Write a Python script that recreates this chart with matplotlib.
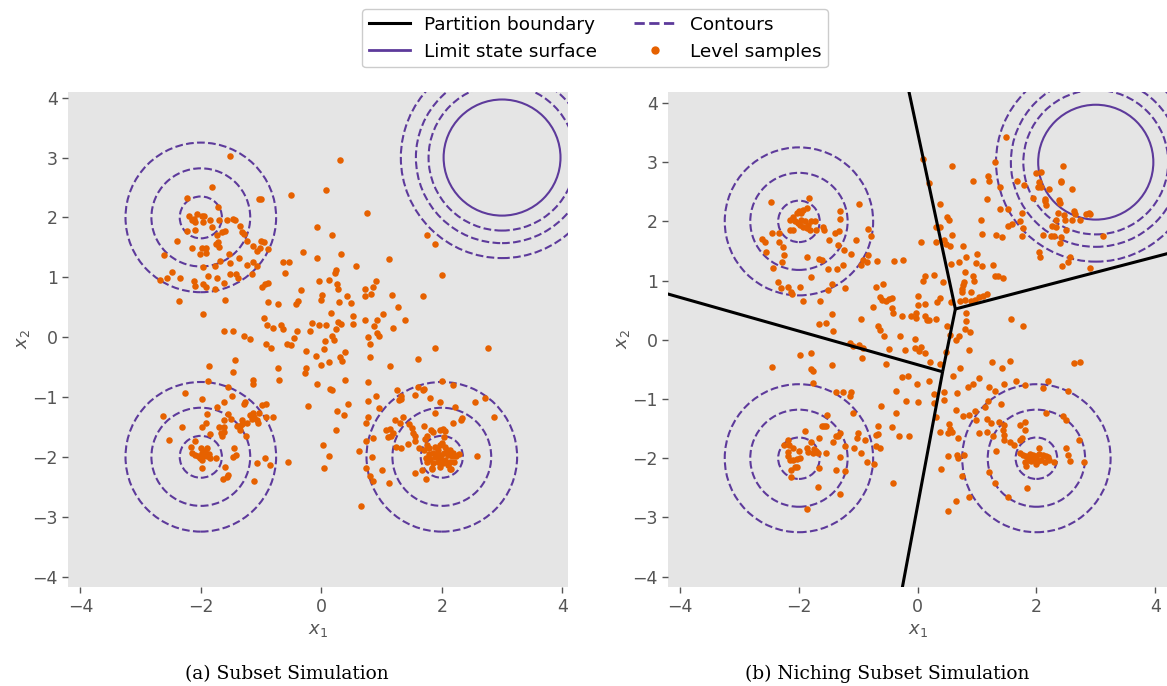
import numpy as np
import matplotlib
matplotlib.use("Agg")
import matplotlib.pyplot as plt
from matplotlib.patches import Circle
from matplotlib.lines import Line2D
from matplotlib.font_manager import FontProperties

purple = "#5d3a9b"
orange = "#e66100"
grey_bg = "#e5e5e5"
tick_grey = "#555555"

# contours of the limit state function
contour_centers = [(-2, 2), (-2, -2), (2, -2)]
contour_radii = [0.35, 0.82, 1.25]
fail_center = (3, 3)
fail_contour_radii = [1.22, 1.43, 1.68]
limit_radius = 0.97

# partition boundaries (niching), segment end points
partition_segments = [
    [(-0.17, 4.3), (0.635, 0.52)],
    [(0.635, 0.52), (4.3, 1.48)],
    [(0.635, 0.52), (0.42, -0.54)],
    [(0.42, -0.54), (-4.3, 0.80)],
    [(0.42, -0.54), (-0.28, -4.3)],
]

# level samples, subset simulation
ss_points = [
    (-1.51, 3.02), (-1.82, 2.51), (-2.23, 2.33), (-1.03, 2.30), (-1.00, 2.30),
    (-2.19, 2.03), (-2.15, 1.95), (-2.12, 1.98), (-2.07, 2.06), (-1.98, 2.03), (-1.94, 2.03),
    (-2.09, 1.92), (-1.96, 1.92), (-1.85, 1.95), (-1.71, 2.18), (-1.69, 1.95), (-1.57, 1.95),
    (-1.46, 1.98), (-1.44, 1.95), (-1.35, 1.85), (-1.32, 1.76), (-1.29, 1.73), (-1.60, 1.78),
    (-1.65, 1.76), (-1.73, 1.70), (-1.71, 1.59), (-1.75, 1.56), (-1.69, 1.51), (-1.82, 1.84),
    (-2.10, 1.79), (-2.23, 1.77), (-2.15, 1.49), (-1.98, 1.49), (-1.92, 1.49), (-2.01, 1.39),
    (-1.92, 1.41), (-2.39, 1.61), (-2.61, 1.38), (-2.67, 0.95), (-2.56, 0.99), (-2.48, 1.09),
    (-2.34, 0.99), (-2.12, 0.94), (-2.09, 0.85), (-1.97, 0.88), (-1.92, 0.83), (-1.76, 0.81),
    (-1.88, 1.02), (-1.73, 0.98), (-1.62, 0.91), (-1.97, 1.17), (-1.77, 1.19), (-1.68, 1.27),
    (-1.54, 1.39), (-1.51, 1.23), (-1.51, 1.06), (-1.42, 1.06), (-1.38, 0.99), (-1.36, 1.33),
    (-1.23, 1.20), (-1.15, 1.05), (-1.07, 1.19), (-1.13, 1.26), (-1.06, 1.44), (-1.02, 1.49),
    (-1.00, 1.61), (-1.13, 1.53), (-1.24, 1.61), (-2.37, 0.61), (-1.97, 0.39), (-1.60, 0.62),
    (-1.62, 0.11), (-1.47, 0.11), (-1.29, 0.02), (-1.18, -0.03),
    (0.31, 2.96), (0.08, 2.46), (-0.50, 2.38), (0.76, 2.07), (-0.07, 1.84), (0.18, 1.71),
    (-0.31, 1.42), (-0.07, 1.33), (0.33, 1.39), (1.13, 1.31), (-0.64, 1.26), (-0.53, 1.26),
    (-0.60, 1.07), (-0.98, 0.84), (-0.93, 0.89), (-0.88, 0.91), (-0.95, 1.59), (-0.88, 1.48),
    (0.57, 1.18), (0.22, 1.07), (0.24, 1.12), (0.12, 0.96), (-0.04, 0.93), (0.26, 0.89),
    (0.27, 0.81), (-0.34, 0.79), (2.01, 1.03), (0.72, 0.81), (0.85, 0.84), (0.83, 0.72),
    (0.72, 0.69), (0.91, 0.93), (1.17, 0.71), (1.69, 0.68), (0.01, 0.71), (0.00, 0.62),
    (0.42, 0.68), (0.30, 0.58), (0.49, 0.57), (-0.89, 0.58), (-0.72, 0.55), (-0.42, 0.56),
    (-0.38, 0.61), (1.27, 0.51), (0.16, 0.41), (0.52, 0.36), (1.02, 0.39), (1.39, 0.28),
    (-0.95, 0.32), (-0.90, 0.20), (-0.80, 0.16), (-0.67, 0.21), (-0.64, 0.14), (-0.41, 0.10),
    (-0.15, 0.24), (-0.18, 0.10), (-0.04, 0.21), (0.07, 0.21), (0.28, 0.25), (0.32, 0.22),
    (0.25, 0.13), (0.53, 0.22), (0.72, 0.29), (0.93, 0.28), (0.88, 0.18), (1.19, 0.16),
    (0.93, 0.07), (0.95, 0.02), (0.77, 0.01), (-0.46, -0.01), (-0.57, -0.11), (-0.50, -0.13),
    (-0.91, -0.11), (-0.84, -0.19), (0.18, 0.02), (0.21, -0.04), (0.06, -0.06), (0.04, -0.20),
    (-0.25, -0.24), (-0.09, -0.31), (0.12, -0.42), (0.00, -0.46), (0.31, -0.34), (0.34, -0.40),
    (0.40, -0.25), (0.81, -0.12), (0.80, -0.34), (1.14, -0.48), (1.61, -0.37), (1.88, -0.18),
    (-0.72, -0.52), (-0.71, -0.72), (-0.25, -0.51), (-0.27, -0.60), (-0.07, -0.79), (0.14, -0.87),
    (0.17, -0.88), (0.39, -0.72), (0.77, -0.75), (2.01, -0.74), (-0.22, -1.15), (0.26, -1.23),
    (0.44, -1.12), (0.91, -0.98), (0.77, -1.06), (0.96, -1.18), (1.25, -0.89), (1.33, -0.98),
    (1.29, -1.05), (1.32, -1.04), (1.56, -0.97), (1.69, -0.89), (1.61, -0.84), (1.71, -0.86),
    (1.80, -1.01), (1.97, -1.09), (1.76, 1.71), (1.88, 1.55),
    (2.77, -0.19), (2.72, -1.02), (2.55, -1.09), (2.19, -0.80), (2.87, -1.33), (2.22, -1.16),
    (0.77, -1.33), (0.75, -1.44), (1.23, -1.38), (1.35, -1.34), (1.07, -1.55), (1.14, -1.53),
    (1.11, -1.67), (1.16, -1.66), (1.19, -1.61), (1.31, -1.44), (1.46, -1.45), (1.50, -1.52),
    (1.53, -1.61), (1.56, -1.66), (1.55, -1.74), (1.44, -1.78), (1.33, -1.86), (1.24, -1.84),
    (0.74, -1.74), (0.85, -1.69), (0.62, -1.91), (0.75, -2.18), (0.80, -2.32), (0.85, -2.40),
    (0.84, -2.01), (1.00, -2.22), (1.13, -2.43), (0.66, -2.82), (1.71, -1.49), (1.62, -1.86),
    (1.75, -1.66), (1.72, -1.71), (1.82, -1.56), (1.86, -1.59), (1.89, -1.27), (1.97, -1.55),
    (2.02, -1.54), (2.06, -1.57), (2.18, -1.44), (2.32, -1.38), (2.34, -1.35), (2.58, -1.98),
    (1.74, -2.37), (1.56, -2.27), (1.67, -2.22), (1.83, -2.21), (2.14, -2.21),
    (0.02, -1.80), (0.12, -1.99), (0.05, -2.19), (0.37, -1.30), (0.25, -1.56),
    (1.79, -1.86), (1.89, -1.83), (1.97, -1.80), (2.06, -1.83), (2.14, -1.89), (2.19, -1.94),
    (2.24, -1.98), (2.17, -1.99), (2.11, -1.97), (2.03, -1.93), (1.94, -1.89), (1.86, -1.93),
    (1.78, -1.95), (1.74, -2.02), (1.81, -2.04), (1.89, -2.01), (1.97, -2.02), (2.06, -2.05),
    (2.14, -2.08), (2.20, -2.09), (2.11, -2.13), (2.02, -2.11), (1.93, -2.09), (1.85, -2.11),
    (1.75, -2.09), (1.83, -2.19), (1.97, -2.17), (2.15, -2.21), (1.70, -1.88), (2.28, -1.95),
    (2.00, -1.77), (2.04, -1.67), (1.75, -1.80), (1.92, -1.95), (1.98, -1.97), (2.08, -1.88),
    (-1.86, -0.48), (-1.43, -0.39), (-1.47, -0.59), (-1.13, -0.71), (-1.13, -0.79), (-0.55, -2.09),
    (-1.88, -0.74), (-2.26, -0.94), (-1.98, -1.04), (-1.73, -1.16), (-1.61, -1.09), (-1.48, -0.99),
    (-1.55, -0.83), (-1.29, -1.12), (-1.27, -1.09), (-0.98, -1.13), (-0.92, -1.12), (-1.89, -1.29),
    (-1.55, -1.28), (-1.61, -1.38), (-1.50, -1.37), (-1.32, -1.39), (-1.35, -1.49), (-1.31, -1.46),
    (-1.23, -1.43), (-1.18, -1.30), (-1.15, -1.36), (-1.13, -1.27), (-1.11, -1.34), (-1.07, -1.38),
    (-1.05, -1.43), (-1.03, -1.27), (-0.91, -1.34), (-0.81, -1.33), (-2.62, -1.32), (-2.31, -1.51),
    (-2.52, -1.72), (-2.10, -1.73), (-1.98, -1.51), (-1.92, -1.44), (-1.84, -1.62), (-1.69, -1.51),
    (-1.62, -1.51), (-1.66, -1.61), (-1.65, -1.66), (-1.62, -1.58), (-1.40, -1.49), (-1.25, -1.66),
    (-1.35, -1.55),
    (-2.16, -1.84), (-2.15, -1.93), (-2.09, -1.97), (-2.00, -1.86), (-1.90, -1.86), (-1.98, -1.93),
    (-1.96, -1.99), (-2.01, -2.02), (-1.86, -1.95), (-1.85, -2.02), (-1.75, -2.02), (-2.05, -1.98),
    (-1.98, -2.06), (-1.90, -1.98), (-1.93, -1.91), (-1.98, -2.19),
    (-1.45, -1.86), (-1.46, -2.01), (-1.41, -1.97), (-1.60, -2.17), (-1.55, -2.30), (-1.56, -2.33),
    (-1.63, -2.37), (-1.12, -2.41), (-1.07, -2.11), (-0.94, -2.02), (-0.85, -2.13),
]

# level samples, niching subset simulation
nss_points = [
    (-0.78, 1.76), (-1.04, 1.69), (0.05, 1.65), (0.31, 1.66), (0.44, 1.69), (0.47, 1.62),
    (0.54, 1.59), (0.57, 1.77), (0.76, 1.59), (1.09, 1.79), (1.32, 1.77), (1.42, 1.73),
    (1.75, 1.76), (-1.24, 1.52), (-1.13, 1.45), (-0.84, 1.44), (-0.92, 1.35), (-0.86, 1.32),
    (-0.95, 1.27), (-0.68, 1.33), (-0.40, 1.33), (-0.24, 1.35), (-1.26, 1.27), (0.56, 1.28),
    (0.69, 1.32), (0.81, 1.40), (1.00, 1.45), (0.99, 1.30), (1.09, 1.25), (1.27, 1.27),
    (0.79, 1.14), (-1.23, 0.87), (-0.70, 0.89), (-0.58, 0.94), (0.12, 1.08), (0.09, 1.00),
    (0.27, 1.09), (0.42, 0.97), (0.93, 1.07), (0.95, 0.99), (1.30, 1.08), (1.35, 1.07),
    (1.44, 1.04), (0.76, 0.93), (0.78, 0.97), (-0.64, 0.73), (-0.60, 0.68), (-0.53, 0.66),
    (-0.48, 0.69), (-0.43, 0.70), (-0.76, 0.56), (0.01, 0.74), (0.01, 0.59), (0.12, 0.60),
    (0.37, 0.70), (0.33, 0.63), (0.56, 0.63), (0.74, 0.80), (0.75, 0.86), (0.89, 0.80),
    (0.72, 0.66), (0.79, 0.68), (0.90, 0.65), (0.96, 0.68), (1.03, 0.72), (1.10, 0.74),
    (1.16, 0.77), (-0.43, 0.53), (-0.42, 0.45), (-0.96, 0.35), (-0.26, 0.41), (-0.11, 0.41),
    (-0.02, 0.37), (-0.03, 0.45), (0.13, 0.41), (0.16, 0.34), (0.19, 0.33), (0.31, 0.35),
    (0.82, 0.45), (0.82, 0.31), (1.58, 0.35), (1.78, 0.24), (0.50, 0.24), (-0.67, 0.23),
    (-0.64, 0.17), (-0.56, 0.07), (0.79, 0.18), (0.88, 0.14), (-0.29, 0.07), (-0.05, 0.01),
    (-0.04, -0.14), (0.06, -0.13), (0.03, -0.19), (0.12, -0.23), (0.54, 0.08), (0.70, 0.07),
    (0.64, 0.00), (0.86, -0.17), (-0.48, -0.16), (-1.14, -0.06), (-1.09, -0.10), (-0.98, -0.08),
    (-0.92, -0.14), (-0.94, -0.31), (-0.53, -0.41), (-0.21, -0.17), (0.20, -0.38), (0.37, -0.41),
    (0.48, -0.20), (0.72, -0.48), (1.26, -0.37), (1.42, -0.47), (1.56, -0.35), (-0.26, -0.63),
    (-0.16, -0.61), (-0.01, -0.74), (0.19, -0.70), (0.59, -0.61), (0.84, -0.79), (0.93, -0.75),
    (1.04, -0.65), (1.20, -0.79), (1.30, -0.86), (1.45, -0.74), (1.66, -0.70), (1.80, -0.76),
    (-1.12, -0.88), (-1.26, -0.88), (-1.14, -0.95), (-0.36, -0.86), (0.27, -0.91), (0.44, -0.89),
    (0.66, -0.90), (0.45, -1.01), (-0.20, -1.04), (0.01, -1.05), (0.27, -1.07), (-0.61, -1.11),
    (1.19, -1.04), (1.41, -1.08), (1.13, -1.14), (-1.09, -1.24), (-0.37, -1.24), (0.31, -1.31),
    (0.65, -1.18), (0.77, -1.28), (0.86, -1.27), (0.96, -1.21), (0.99, -1.35), (1.16, -1.34),
    (1.24, -1.41), (1.37, -1.38), (1.45, -1.44), (1.44, -1.52), (1.73, -1.44), (1.80, -1.38),
    (0.52, -1.42), (0.54, -1.51), (0.37, -1.55), (-0.67, -1.46), (-1.00, -1.58), (-1.02, -1.66),
    (-0.88, -1.70), (-0.70, -1.60), (-0.66, -1.59), (-0.43, -1.48), (-0.31, -1.62), (-0.15, -1.63),
    (0.51, -1.58), (0.57, -1.55), (0.68, -1.66), (1.03, -1.58), (1.17, -1.55), (1.27, -1.63),
    (1.45, -1.60), (1.46, -1.69), (1.55, -1.72), (1.62, -1.77), (1.72, -1.69), (1.76, -1.66),
    (1.81, -1.52), (-0.70, -1.80), (-1.23, -1.80), (-1.07, -1.83), (-0.63, -1.82),
    (-1.83, 2.39), (-2.47, 2.33), (-0.99, 2.30), (-1.31, 2.17), (-1.31, 2.04),
    (-2.15, 2.03), (-2.10, 2.08), (-2.04, 2.14), (-2.00, 2.17), (-1.96, 2.14), (-1.93, 2.20),
    (-1.87, 2.22), (-2.07, 2.00), (-2.01, 1.97), (-1.99, 1.94), (-1.93, 1.91), (-1.87, 1.89),
    (-1.85, 1.94), (-1.79, 2.00), (-1.73, 2.00), (-1.71, 1.86), (-1.82, 1.86), (-1.96, 2.03),
    (-1.90, 2.00), (-2.10, 1.85), (-2.15, 1.85), (-1.59, 1.90), (-1.58, 1.85), (-2.33, 1.81),
    (-2.45, 1.81), (-1.39, 1.80), (-1.33, 1.83), (-1.35, 1.60), (-1.49, 1.68), (-0.84, 1.87),
    (-2.62, 1.71), (-2.58, 1.65), (-2.56, 1.49), (-2.33, 1.66), (-2.27, 1.57), (-2.26, 1.44),
    (-2.28, 1.32), (-2.44, 1.21), (-1.86, 1.39), (-1.66, 1.36), (-1.61, 1.34), (-1.51, 1.20),
    (-1.36, 1.19), (-1.80, 1.06), (-2.35, 0.97), (-2.30, 0.88), (-2.18, 0.90), (-2.14, 0.81),
    (-2.11, 0.78), (-1.98, 0.90), (-1.93, 0.66), (-1.65, 0.66), (-1.51, 0.84), (-1.44, 0.95),
    (-1.44, 0.44), (-1.54, 0.29), (-1.67, 0.27), (-1.43, 0.15),
    (0.09, 3.06), (0.57, 2.93), (1.48, 3.42), (1.30, 3.00), (0.93, 2.69), (1.18, 2.76),
    (1.20, 2.69), (0.19, 2.64), (1.38, 2.58), (1.16, 2.38), (0.38, 2.30), (1.38, 2.21),
    (0.49, 2.07), (0.52, 2.03), (1.06, 2.02), (0.31, 1.90), (0.38, 1.90), (1.53, 2.21),
    (1.68, 2.69), (1.79, 2.61), (1.99, 2.82), (2.08, 2.83), (2.02, 2.58), (2.08, 2.58),
    (2.05, 2.66), (2.22, 2.55), (2.44, 2.94), (2.41, 2.69), (2.42, 2.66), (2.60, 2.55),
    (1.94, 2.39), (2.15, 2.34), (2.17, 2.28), (2.15, 2.38), (2.38, 2.36), (2.39, 2.31),
    (1.76, 2.15), (1.52, 1.93), (1.59, 1.95), (1.73, 2.00), (1.77, 1.89), (2.37, 2.14),
    (2.46, 2.11), (2.49, 2.03), (2.63, 2.17), (2.65, 2.12), (2.60, 2.03), (2.73, 2.03),
    (2.84, 2.13), (2.88, 2.14), (2.91, 2.13), (2.33, 2.02), (2.26, 1.93), (2.33, 1.91),
    (2.50, 1.85), (2.11, 1.77), (2.25, 1.75), (2.29, 1.75), (2.42, 1.73), (2.40, 1.63),
    (3.13, 1.75), (2.05, 1.48), (2.06, 1.39), (2.56, 1.39), (2.54, 1.32), (2.43, 1.25),
    (2.90, 1.21),
    (-2.46, -0.46), (-1.99, -0.25), (-1.80, -0.23), (-1.79, -0.50), (-1.77, -0.53), (-1.44, -0.42),
    (-1.77, -0.73), (-1.38, -0.89), (-1.52, -1.27), (-1.62, -1.45), (-1.58, -1.45), (-1.54, -1.45),
    (-1.31, -1.58), (-1.37, -1.63), (-1.43, -1.72), (-1.35, -1.62), (-1.89, -1.54), (-1.66, -1.66),
    (-0.95, -1.91), (-0.86, -2.07), (-0.74, -2.10), (-0.42, -2.42),
    (-2.18, -1.70), (-2.17, -1.77), (-2.26, -1.77), (-2.10, -1.83), (-2.18, -1.89), (-2.00, -1.87),
    (-1.87, -1.83), (-1.79, -1.72), (-1.75, -1.84), (-1.71, -1.87), (-1.68, -1.91), (-1.76, -1.91),
    (-1.85, -1.89), (-1.99, -2.00), (-2.04, -2.02), (-2.10, -2.03), (-2.15, -2.03), (-2.18, -1.96),
    (-2.07, -2.14), (-2.13, -2.20), (-2.14, -2.31), (-2.04, -2.14), (-1.66, -2.17), (-1.54, -1.91),
    (-1.68, -2.48), (-1.86, -2.85), (-1.37, -2.20), (-1.30, -1.98), (-1.23, -2.21), (-1.31, -2.61),
    (2.63, -0.39), (2.74, -0.38), (2.19, -0.69), (2.11, -0.82), (2.54, -0.86), (2.17, -1.23),
    (2.45, -1.28), (2.50, -1.35), (2.72, -1.70), (2.50, -1.83), (2.53, -1.94), (2.57, -2.04),
    (2.81, -2.07), (2.05, -1.83),
    (1.77, -1.94), (1.83, -1.96), (1.89, -1.93), (1.94, -1.94), (2.00, -1.96), (2.05, -1.93),
    (2.11, -1.94), (2.17, -1.96), (2.22, -2.03), (2.29, -2.06), (1.86, -2.03), (1.91, -2.04),
    (1.97, -2.02), (2.03, -2.04), (2.08, -2.03), (2.14, -2.06), (1.80, -2.07), (1.83, -2.13),
    (2.00, -2.09), (1.72, -1.91), (1.90, -2.00), (2.19, -1.98),
    (1.20, -2.24), (1.31, -2.42), (1.85, -2.51), (1.53, -2.66), (0.86, -2.66), (0.65, -2.72),
    (0.51, -2.90), (0.74, -2.30), (0.39, -2.18), (1.32, -1.87), (0.68, -2.00), (0.66, -1.94),
    (0.51, -1.97), (0.78, -1.94),
]

ticks = [-4, -2, 0, 2, 4]
yticks = [-4, -3, -2, -1, 0, 1, 2, 3, 4]


def draw_panel(ax, pts, xlim, ylim):
    ax.set_facecolor(grey_bg)
    for c in contour_centers:
        for r in contour_radii:
            ax.add_patch(Circle(c, r, fill=False, ls="--", lw=1.5, ec=purple, zorder=2))
    for r in fail_contour_radii:
        ax.add_patch(Circle(fail_center, r, fill=False, ls="--", lw=1.5, ec=purple, zorder=2))
    ax.add_patch(Circle(fail_center, limit_radius, fill=False, lw=1.5, ec=purple, zorder=2))
    xy = np.array(pts)
    ax.scatter(xy[:, 0], xy[:, 1], s=22, c=orange, linewidths=0, zorder=3)
    ax.set_xlim(*xlim)
    ax.set_ylim(*ylim)
    ax.set_xticks(ticks)
    ax.set_yticks(yticks)
    for s in ax.spines.values():
        s.set_visible(False)
    ax.tick_params(colors=tick_grey, labelsize=12.5, length=4, width=1)
    ax.set_xlabel("$x_1$", fontsize=13, color=tick_grey, labelpad=4)
    ax.set_ylabel("$x_2$", fontsize=13, color=tick_grey, labelpad=0)


fig = plt.figure(figsize=(11.67, 6.86), dpi=100)
ax1 = fig.add_axes([0.0585, 0.1439, 0.4285, 0.7224])
ax2 = fig.add_axes([0.5727, 0.1439, 0.4273, 0.7224])

draw_panel(ax1, ss_points, (-4.2, 4.1), (-4.18, 4.1))
draw_panel(ax2, nss_points, (-4.2, 4.2), (-4.18, 4.19))
for seg in partition_segments:
    (x0, y0), (x1, y1) = seg
    ax2.plot([x0, x1], [y0, y1], color="black", lw=2.2, zorder=4, solid_capstyle="butt")

handles = [
    Line2D([], [], color="black", lw=2.2),
    Line2D([], [], color=purple, lw=2),
    Line2D([], [], color=purple, lw=2, ls="--"),
    Line2D([], [], color=orange, marker="o", ls="none", ms=6, mew=0),
]
labels = ["Partition boundary", "Limit state surface", "Contours", "Level samples"]
fig.legend(handles, labels, loc="upper center", bbox_to_anchor=(595 / 1167, 1.0),
           ncol=2, fontsize=13.3, frameon=True, edgecolor="#cccccc", framealpha=1,
           columnspacing=2.0, handlelength=2.2, borderpad=0.35)

cap_font = FontProperties(size=13.4)
if hasattr(cap_font, "set_math_fontset"):
    cap_font.set_math_fontset("cm")
    cap_a = r"$\mathrm{(a)\ Subset\ Simulation}$"
    cap_b = r"$\mathrm{(b)\ Niching\ Subset\ Simulation}$"
else:
    cap_font.set_family("DejaVu Serif")
    cap_a = "(a) Subset Simulation"
    cap_b = "(b) Niching Subset Simulation"
fig.text(287 / 1167, 1 - 674 / 686, cap_a, ha="center", va="center", fontproperties=cap_font)
fig.text(887 / 1167, 1 - 674 / 686, cap_b, ha="center", va="center", fontproperties=cap_font)

fig.savefig("out.png", dpi=100)
